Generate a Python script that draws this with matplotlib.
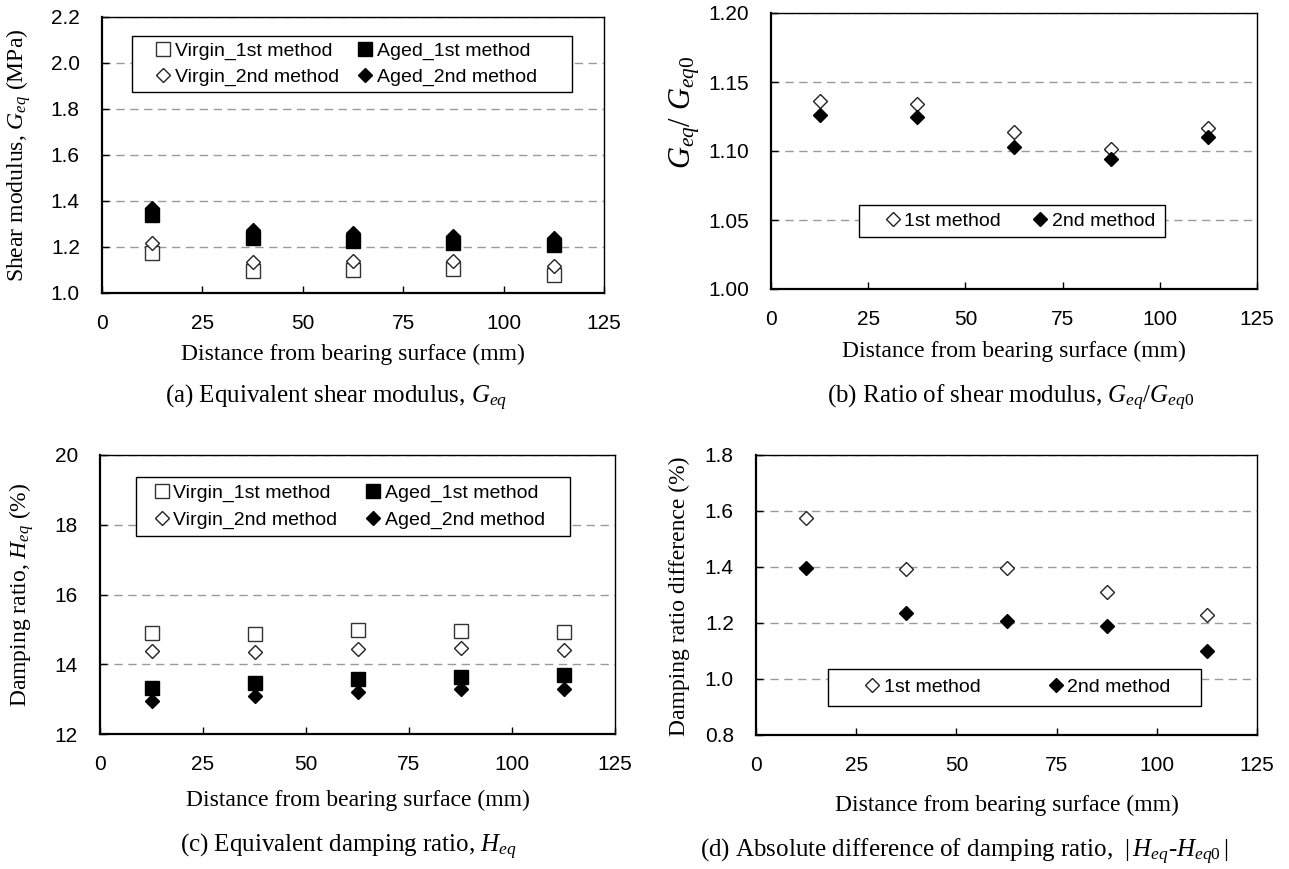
import matplotlib
matplotlib.use("Agg")
from matplotlib import pyplot as plt
from matplotlib.patches import Rectangle
from matplotlib.ticker import FormatStrFormatter

plt.rcParams['font.family'] = ['Liberation Sans', 'DejaVu Sans']
plt.rcParams['mathtext.fontset'] = 'custom'
plt.rcParams['mathtext.rm'] = 'Liberation Serif'
plt.rcParams['mathtext.it'] = 'Liberation Serif:italic'
plt.rcParams['mathtext.bf'] = 'Liberation Serif:bold'

# Data
distance = [12.5, 37.5, 62.5, 87.5, 112.5]
x_ticks = [0, 25, 50, 75, 100, 125]

geq_virgin_1st = [1.176, 1.096, 1.099, 1.105, 1.080]
geq_virgin_2nd = [1.218, 1.135, 1.139, 1.139, 1.118]
geq_aged_1st = [1.339, 1.241, 1.227, 1.218, 1.208]
geq_aged_2nd = [1.368, 1.276, 1.259, 1.247, 1.237]

ratio_1st = [1.1365, 1.134, 1.1138, 1.1012, 1.1167]
ratio_2nd = [1.126, 1.125, 1.1027, 1.0942, 1.1099]

heq_virgin_1st = [14.89, 14.87, 14.98, 14.96, 14.93]
heq_virgin_2nd = [14.37, 14.36, 14.43, 14.47, 14.40]
heq_aged_1st = [13.31, 13.47, 13.59, 13.64, 13.69]
heq_aged_2nd = [12.96, 13.10, 13.20, 13.28, 13.30]

hdiff_1st = [1.574, 1.392, 1.398, 1.311, 1.229]
hdiff_2nd = [1.398, 1.236, 1.208, 1.189, 1.101]

W, H = 1289, 869
SERIF = 'Liberation Serif'

fig = plt.figure(figsize=(W / 100, H / 100), dpi=100)


def px_axes(left, right, top, bottom):
    # pixel box -> figure fraction
    return fig.add_axes([left / W, 1 - bottom / H, (right - left) / W, (bottom - top) / H])


def style_axes(ax, ylim, yticks, fmt):
    ax.set_xlim(0, 125)
    ax.set_xticks(x_ticks)
    ax.set_ylim(*ylim)
    ax.set_yticks(yticks)
    ax.yaxis.set_major_formatter(FormatStrFormatter(fmt))
    ax.tick_params(direction='in', length=5, width=1, labelsize=15, top=False, right=False)
    ax.tick_params(axis='y', pad=16)
    ax.tick_params(axis='x', pad=15)
    ax.yaxis.grid(True, color='#9a9a9a', linestyle=(0, (6, 4)), linewidth=1)
    ax.set_axisbelow(True)
    for side in ['left', 'bottom']:
        ax.spines[side].set_linewidth(1.6)
    for side in ['top', 'right']:
        ax.spines[side].set_linewidth(1.0)


def open_sq(ax, y, label):
    return ax.plot(distance, y, 's', ms=10, mfc='white', mec='#333333', mew=1.0, ls='none', label=label)[0]


def open_dm(ax, y, label):
    return ax.plot(distance, y, 'D', ms=7, mfc='white', mec='#222222', mew=1.0, ls='none', label=label)[0]


def fill_sq(ax, y, label):
    return ax.plot(distance, y, 's', ms=10, mfc='black', mec='black', mew=1.0, ls='none', label=label)[0]


def fill_dm(ax, y, label):
    return ax.plot(distance, y, 'D', ms=7, mfc='black', mec='black', mew=1.0, ls='none', label=label)[0]


def add_legend(ax, handles, box, content, yc, spacing):
    x0, y0, x1, y1 = box
    ax.add_patch(Rectangle((x0, y0), x1 - x0, y1 - y0, transform=ax.transAxes,
                           facecolor='white', edgecolor='black', linewidth=1.0, zorder=5))
    leg = ax.legend(handles=handles, ncol=2, loc='center', mode='expand',
                    bbox_to_anchor=(content[0], yc, content[1] - content[0], 0),
                    frameon=False, borderpad=0, borderaxespad=0, fontsize=14,
                    handlelength=0.9, handletextpad=0.15, labelspacing=spacing,
                    columnspacing=1.0)
    leg.set_zorder(6)


# (a) Equivalent shear modulus
ax_a = px_axes(102, 604, 17, 293)
style_axes(ax_a, (1.0, 2.2), [1.0, 1.2, 1.4, 1.6, 1.8, 2.0, 2.2], '%.1f')
h1 = open_sq(ax_a, geq_virgin_1st, 'Virgin_1st method')
h3 = fill_sq(ax_a, geq_aged_1st, 'Aged_1st method')
h2 = open_dm(ax_a, geq_virgin_2nd, 'Virgin_2nd method')
h4 = fill_dm(ax_a, geq_aged_2nd, 'Aged_2nd method')
add_legend(ax_a, [h1, h2, h3, h4], (0.060, 0.728, 0.936, 0.931), (0.105, 0.867), 0.83, 0.45)
ax_a.set_ylabel(r'Shear modulus, $G_{eq}$ (MPa)', family=SERIF, fontsize=17)
ax_a.yaxis.set_label_coords(-0.137, 0.5)
ax_a.set_xlabel('Distance from bearing surface (mm)', family=SERIF, fontsize=17)
ax_a.xaxis.set_label_coords(0.5, -0.183)

# (b) Ratio of shear modulus
ax_b = px_axes(771, 1257, 13, 289)
style_axes(ax_b, (1.0, 1.2), [1.00, 1.05, 1.10, 1.15, 1.20], '%.2f')
g1 = open_dm(ax_b, ratio_1st, '1st method')
g2 = fill_dm(ax_b, ratio_2nd, '2nd method')
add_legend(ax_b, [g1, g2], (0.181, 0.188, 0.811, 0.304), (0.232, 0.79), 0.246, 0.4)
ax_b.set_ylabel(r'$G_{eq}$/ $G_{eq0}$', family=SERIF, fontsize=22)
ax_b.yaxis.set_label_coords(-0.143, 0.64)
ax_b.set_xlabel('Distance from bearing surface (mm)', family=SERIF, fontsize=17)
ax_b.xaxis.set_label_coords(0.5, -0.188)

# (c) Equivalent damping ratio
ax_c = px_axes(100, 615, 455, 734)
style_axes(ax_c, (12, 20), [12, 14, 16, 18, 20], '%d')
k1 = open_sq(ax_c, heq_virgin_1st, 'Virgin_1st method')
k3 = fill_sq(ax_c, heq_aged_1st, 'Aged_1st method')
k2 = open_dm(ax_c, heq_virgin_2nd, 'Virgin_2nd method')
k4 = fill_dm(ax_c, heq_aged_2nd, 'Aged_2nd method')
add_legend(ax_c, [k1, k2, k3, k4], (0.070, 0.710, 0.913, 0.921), (0.103, 0.864), 0.815, 0.45)
ax_c.set_ylabel(r'Damping ratio, $H_{eq}$ (%)', family=SERIF, fontsize=17)
ax_c.yaxis.set_label_coords(-0.124, 0.5)
ax_c.set_xlabel('Distance from bearing surface (mm)', family=SERIF, fontsize=17)
ax_c.xaxis.set_label_coords(0.5, -0.2)

# (d) Absolute difference of damping ratio
ax_d = px_axes(756, 1257, 455, 735)
style_axes(ax_d, (0.8, 1.8), [0.8, 1.0, 1.2, 1.4, 1.6, 1.8], '%.1f')
d1 = open_dm(ax_d, hdiff_1st, '1st method')
d2 = fill_dm(ax_d, hdiff_2nd, '2nd method')
add_legend(ax_d, [d1, d2], (0.144, 0.104, 0.888, 0.236), (0.214, 0.828), 0.17, 0.4)
ax_d.set_ylabel('Damping ratio difference (%)', family=SERIF, fontsize=17)
ax_d.yaxis.set_label_coords(-0.131, 0.495)
ax_d.set_xlabel('Distance from bearing surface (mm)', family=SERIF, fontsize=17)
ax_d.xaxis.set_label_coords(0.5, -0.213)

# captions under each panel
captions = [
    (336, 398, r'(a) Equivalent shear modulus, $G_{eq}$'),
    (1011, 398, r'(b) Ratio of shear modulus, $G_{eq}$/$G_{eq0}$'),
    (348, 847, r'(c) Equivalent damping ratio, $H_{eq}$'),
    (964, 852, r'(d) Absolute difference of damping ratio,  $|\,H_{eq}$-$H_{eq0}\,|$'),
]
for cx, cy, text in captions:
    fig.text(cx / W, 1 - cy / H, text, family=SERIF, fontsize=18, ha='center', va='center')

fig.savefig('out.png', dpi=100)
